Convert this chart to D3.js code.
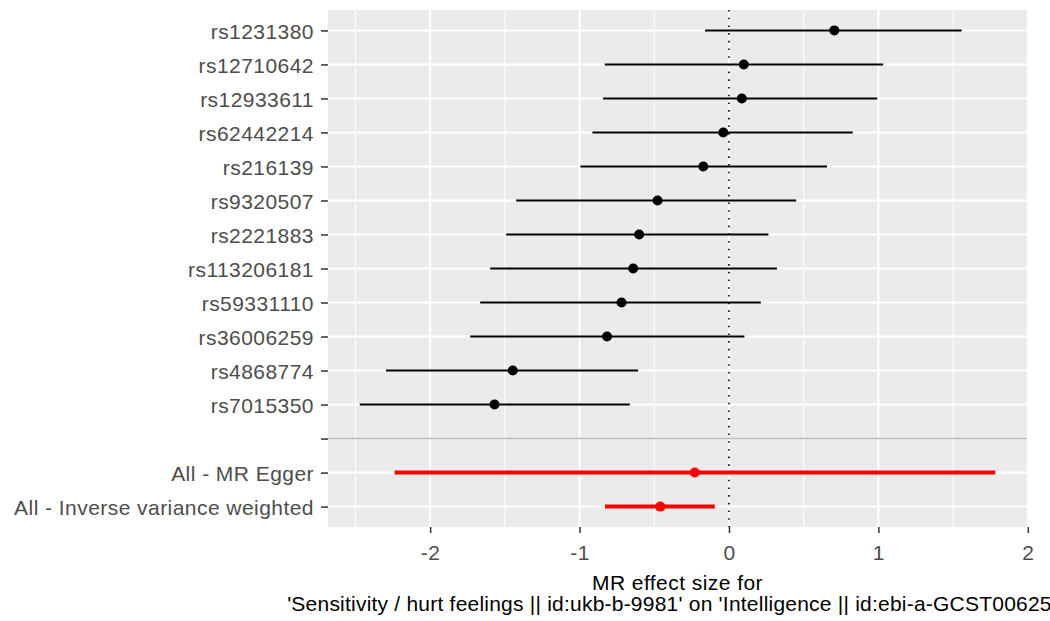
<!DOCTYPE html>
<html>
<head>
<meta charset="utf-8">
<script src="https://cdn.jsdelivr.net/npm/d3@7/dist/d3.min.js"></script>
<style>
  html, body { margin: 0; padding: 0; background: #ffffff; }
  svg { display: block; }
  text { font-family: "Liberation Sans", Arial, sans-serif; }
</style>
</head>
<body>
<svg id="chart" width="1050" height="621"></svg>
<script>
// ---- data ----
const snps = ["rs1231380","rs12710642","rs12933611","rs62442214","rs216139","rs9320507",
              "rs2221883","rs113206181","rs59331110","rs36006259","rs4868774","rs7015350"];
const snpB  = [0.705, 0.099, 0.086, -0.038, -0.172, -0.478, -0.601, -0.641, -0.719, -0.816, -1.447, -1.569];
const snpLo = [-0.160, -0.831, -0.843, -0.914, -0.994, -1.424, -1.491, -1.598, -1.665, -1.732, -2.296, -2.471];
const snpHi = [1.557, 1.032, 0.992, 0.828, 0.656, 0.450, 0.264, 0.321, 0.213, 0.103, -0.608, -0.664];

const methods  = ["All - MR Egger", "All - Inverse variance weighted"];
const methodB  = [-0.229, -0.46];
const methodLo = [-2.238, -0.83];
const methodHi = [1.782, -0.095];

const separator = "";
const xMajorTicks = [-2, -1, 0, 1, 2];
const xMinorTicks = [-2.5, -1.5, -0.5, 0.5, 1.5];
const xTitle1 = "MR effect size for";
const xTitle2 = "'Sensitivity / hurt feelings || id:ukb-b-9981' on 'Intelligence || id:ebi-a-GCST006250'";

// ---- layout ----
const panel = { left: 328, right: 1027, top: 10, bottom: 527 };
const svg = d3.select("#chart");

const allLo = snpLo.concat(methodLo), allHi = snpHi.concat(methodHi);
const lo = d3.min(allLo), hi = d3.max(allHi);
const pad = (hi - lo) * 0.05;
const x = d3.scaleLinear().domain([lo - pad, hi + pad]).range([panel.left, panel.right]);

const cats = snps.concat([separator], methods);
const y = d3.scalePoint().domain(cats).range([panel.top, panel.bottom]).padding(0.6);

// panel background
svg.append("rect")
  .attr("x", panel.left).attr("y", panel.top)
  .attr("width", panel.right - panel.left).attr("height", panel.bottom - panel.top)
  .attr("fill", "#ebebeb");

// gridlines
const g = svg.append("g");
g.selectAll(".minor").data(xMinorTicks).join("line")
  .attr("x1", d => x(d)).attr("x2", d => x(d))
  .attr("y1", panel.top).attr("y2", panel.bottom)
  .attr("stroke", "#ffffff").attr("stroke-width", 1);
g.selectAll(".major").data(xMajorTicks).join("line")
  .attr("x1", d => x(d)).attr("x2", d => x(d))
  .attr("y1", panel.top).attr("y2", panel.bottom)
  .attr("stroke", "#ffffff").attr("stroke-width", 2);
g.selectAll(".hgrid").data(cats).join("line")
  .attr("x1", panel.left).attr("x2", panel.right)
  .attr("y1", d => y(d)).attr("y2", d => y(d))
  .attr("stroke", "#ffffff").attr("stroke-width", 2);

// separator line
svg.append("line")
  .attr("x1", panel.left).attr("x2", panel.right)
  .attr("y1", y(separator)).attr("y2", y(separator))
  .attr("stroke", "#b8b8b8").attr("stroke-width", 1.6);

// zero line
svg.append("line")
  .attr("x1", x(0)).attr("x2", x(0))
  .attr("y1", panel.top).attr("y2", panel.bottom)
  .attr("stroke", "#000").attr("stroke-width", 1.6)
  .attr("stroke-dasharray", "1.6,6.1");

// SNP error bars and points
svg.append("g").selectAll("line").data(snps).join("line")
  .attr("x1", (d, i) => x(snpLo[i])).attr("x2", (d, i) => x(snpHi[i]))
  .attr("y1", d => y(d)).attr("y2", d => y(d))
  .attr("stroke", "#000").attr("stroke-width", 2);
svg.append("g").selectAll("circle").data(snps).join("circle")
  .attr("cx", (d, i) => x(snpB[i])).attr("cy", d => y(d))
  .attr("r", 5).attr("fill", "#000");

// method error bars and points
svg.append("g").selectAll("line").data(methods).join("line")
  .attr("x1", (d, i) => x(methodLo[i])).attr("x2", (d, i) => x(methodHi[i]))
  .attr("y1", d => y(d)).attr("y2", d => y(d))
  .attr("stroke", "#ff0000").attr("stroke-width", 4);
svg.append("g").selectAll("circle").data(methods).join("circle")
  .attr("cx", (d, i) => x(methodB[i])).attr("cy", d => y(d))
  .attr("r", 5).attr("fill", "#ff0000");

// axes
const yAxis = d3.axisLeft(y).tickSize(7).tickPadding(7);
const ya = svg.append("g").attr("transform", `translate(${panel.left},0)`).call(yAxis);
ya.select(".domain").remove();
ya.selectAll(".tick line").attr("stroke", "#333333").attr("stroke-width", 1.5);
ya.selectAll(".tick text")
  .attr("fill", "#4d4d4d").attr("font-size", 21).attr("letter-spacing", 0.45)
  .attr("dy", "0.37em");

const xAxis = d3.axisBottom(x).tickValues(xMajorTicks).tickFormat(d => String(d)).tickSize(6);
const xa = svg.append("g").attr("transform", `translate(0,${panel.bottom})`).call(xAxis);
xa.select(".domain").remove();
xa.selectAll(".tick line").attr("stroke", "#333333").attr("stroke-width", 1.5);
xa.selectAll(".tick text")
  .attr("fill", "#4d4d4d").attr("font-size", 21).attr("letter-spacing", 0.45)
  .attr("dy", null).attr("y", 33);

// x title
const cx = (panel.left + panel.right) / 2;
svg.append("text").attr("x", cx).attr("y", 590).attr("text-anchor", "middle")
  .attr("font-size", 21).attr("letter-spacing", 0.45).attr("fill", "#000").text(xTitle1);
svg.append("text").attr("x", cx).attr("y", 611).attr("text-anchor", "middle")
  .attr("font-size", 21).attr("letter-spacing", 0.22).attr("fill", "#000").text(xTitle2);
</script>
</body>
</html>
